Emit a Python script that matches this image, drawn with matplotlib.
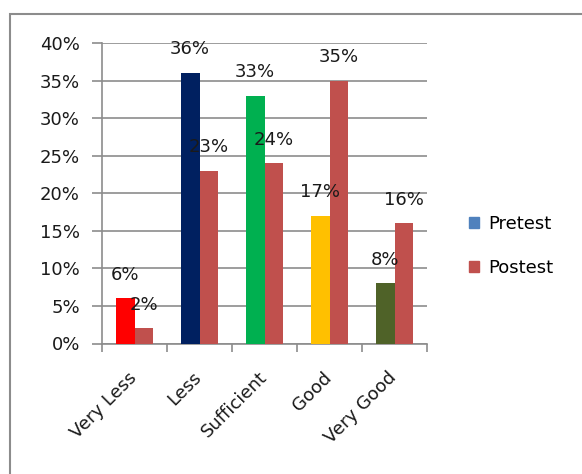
import numpy as np
import matplotlib
matplotlib.use("Agg")
import matplotlib.pyplot as plt
import matplotlib.transforms as mtransforms
from matplotlib.patches import Patch, Rectangle
from matplotlib.ticker import FuncFormatter

# chart values (fractions)
categories = ["Very Less", "Less", "Sufficient", "Good", "Very Good"]
pretest = [0.06, 0.36, 0.33, 0.17, 0.08]
postest = [0.02, 0.23, 0.24, 0.35, 0.16]
pretest_colors = ["#FF0000", "#002060", "#00B050", "#FFC000", "#4F6228"]
postest_color = "#C0504D"
legend_pre_color = "#4F81BD"
y_ticks = [0.0, 0.05, 0.10, 0.15, 0.20, 0.25, 0.30, 0.35, 0.40]

plt.rcParams["font.family"] = "DejaVu Sans"
fig = plt.figure(figsize=(5.82, 4.74), dpi=100)

# outer chart frame (right and bottom edges fall outside the picture)
fig.patches.append(Rectangle((10 / 582, -0.1), 1.2, 1 - 14 / 474 + 0.1,
                             transform=fig.transFigure, fill=False,
                             edgecolor="#8C8C8C", linewidth=1.5))

ax = fig.add_axes([102 / 582, 1 - 343.5 / 474, 325 / 582, 300.5 / 474])

x = np.arange(len(categories))
w = 0.292
ax.bar(x - w / 2, pretest, w, color=pretest_colors, zorder=3)
ax.bar(x + w / 2, postest, w, color=postest_color, zorder=3)

# data labels sitting above each bar
for xi, v in zip(x - w / 2, pretest):
    ax.annotate(f"{v * 100:.0f}%", (xi, v), xytext=(0, 17), textcoords="offset points",
                ha="center", va="center", fontsize=13, color="#1A1A1A", zorder=4)
for xi, v in zip(x + w / 2, postest):
    ax.annotate(f"{v * 100:.0f}%", (xi, v), xytext=(0, 17), textcoords="offset points",
                ha="center", va="center", fontsize=13, color="#1A1A1A", zorder=4)

ax.set_xlim(-0.5, len(categories) - 0.5)
ax.set_ylim(0, 0.40)
ax.set_yticks(y_ticks)
ax.yaxis.set_major_formatter(FuncFormatter(lambda v, p: f"{v * 100:.0f}%"))
ax.grid(axis="y", color="#8C8C8C", linewidth=1.2, zorder=0)

# category ticks sit between the groups
ax.set_xticks(np.arange(len(categories) + 1) - 0.5, minor=False)
ax.set_xticklabels([])
ax.set_xticks(x, minor=True)
ax.set_xticklabels(categories, minor=True, rotation=45, ha="right",
                   rotation_mode="anchor", fontsize=13, color="#1A1A1A")
ax.tick_params(axis="x", which="minor", length=0, pad=18)
ax.tick_params(axis="x", which="major", length=6, color="#8C8C8C", width=1.2)
ax.tick_params(axis="y", length=7, color="#8C8C8C", width=1.2, labelsize=13,
               labelcolor="#1A1A1A", pad=9)

# nudge the slanted labels a little to the left
shift = mtransforms.ScaledTranslation(-7 / 100, 0, fig.dpi_scale_trans)
for lbl in ax.get_xticklabels(minor=True):
    lbl.set_transform(lbl.get_transform() + shift)

for side in ["top", "right"]:
    ax.spines[side].set_visible(False)
for side in ["left", "bottom"]:
    ax.spines[side].set_color("#8C8C8C")
    ax.spines[side].set_linewidth(1.2)

handles = [Patch(color=legend_pre_color, label="Pretest"),
           Patch(color=postest_color, label="Postest")]
fig.legend(handles=handles, loc="center left", bbox_to_anchor=(453 / 582, 1 - 246 / 474),
           frameon=False, fontsize=13, handlelength=0.55, handleheight=0.55,
           handletextpad=0.5, labelspacing=1.45)

fig.savefig("out.png", dpi=100)
